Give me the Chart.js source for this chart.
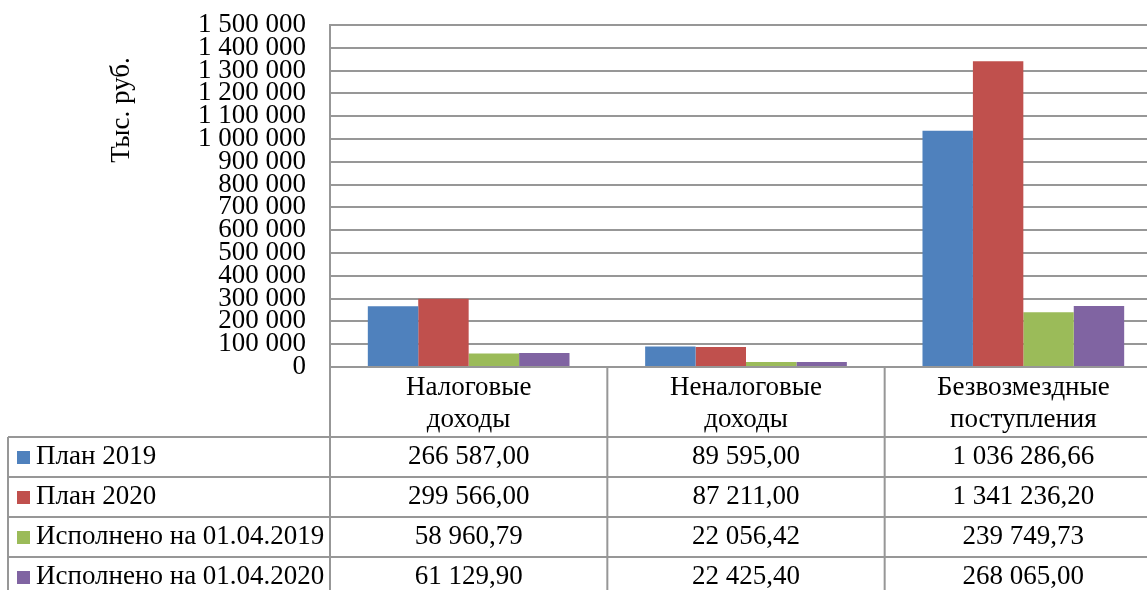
<!DOCTYPE html>
<html>
<head>
<meta charset="utf-8">
<script src="https://cdn.jsdelivr.net/npm/chart.js"></script>
<style>
  html, body { margin: 0; padding: 0; background: #fff; overflow: hidden; }
  canvas { display: block; }
</style>
</head>
<body>
<canvas id="budgetChart" width="1162" height="600"></canvas>
<script>
const FONT = "Liberation Serif, Times New Roman, serif";
const FONT_SIZE = 27;
const LINE_COLOR = "#979797";
const COLORS = ["#4F81BD", "#C0504D", "#9BBB59", "#8064A2"];

const categories = [
  ["Налоговые", "доходы"],
  ["Неналоговые", "доходы"],
  ["Безвозмездные", "поступления"],
];
const seriesNames = [
  "План 2019",
  "План 2020",
  "Исполнено на 01.04.2019",
  "Исполнено на 01.04.2020",
];
const plan2019 = [266587.0, 89595.0, 1036286.66];
const plan2020 = [299566.0, 87211.0, 1341236.2];
const done2019 = [58960.79, 22056.42, 239749.73];
const done2020 = [61129.9, 22425.4, 268065.0];
const yTitle = "Тыс. руб.";

const seriesValues = [plan2019, plan2020, done2019, done2020];

function groupDigits(s) {
  return s.replace(/\B(?=(\d{3})+(?!\d))/g, " ");
}
function formatTick(v) {
  return groupDigits(String(Math.round(v)));
}
function formatCell(v) {
  const parts = v.toFixed(2).split(".");
  return groupDigits(parts[0]) + "," + parts[1];
}

// draws the axis title and the data table under the plot
const tablePlugin = {
  id: "dataTable",
  afterDraw(chart) {
    const ctx = chart.ctx;
    const area = chart.chartArea;
    const x = chart.scales.x;
    const catW = (x.right - x.left) / categories.length;
    const headerH = 70;
    const rowH = 40;
    const tableLeft = 8;
    const top = area.bottom;
    const headerBottom = top + headerH;
    const bottom = headerBottom + rowH * seriesNames.length;

    ctx.save();

    // y axis title
    ctx.save();
    ctx.translate(122, 110);
    ctx.rotate(-Math.PI / 2);
    ctx.font = FONT_SIZE + "px " + FONT;
    ctx.fillStyle = "#000";
    ctx.textAlign = "center";
    ctx.textBaseline = "middle";
    ctx.fillText(yTitle, 0, 0);
    ctx.restore();

    // grid lines of the table
    ctx.strokeStyle = LINE_COLOR;
    ctx.lineWidth = 2;
    ctx.beginPath();
    for (let r = 0; r <= seriesNames.length; r++) {
      const y = headerBottom + r * rowH;
      ctx.moveTo(tableLeft, y);
      ctx.lineTo(x.right, y);
    }
    ctx.moveTo(tableLeft, headerBottom);
    ctx.lineTo(tableLeft, bottom);
    for (let c = 0; c <= categories.length; c++) {
      const cx = x.left + c * catW;
      ctx.moveTo(cx, top);
      ctx.lineTo(cx, bottom);
    }
    ctx.stroke();

    ctx.fillStyle = "#000";
    ctx.font = FONT_SIZE + "px " + FONT;
    ctx.textBaseline = "middle";

    // header: category names
    ctx.textAlign = "center";
    categories.forEach((lines, i) => {
      const cx = x.getPixelForValue(i);
      lines.forEach((line, j) => {
        ctx.fillText(line, cx, top + 21 + j * 32);
      });
    });

    // rows: legend key, series name, values
    seriesNames.forEach((name, r) => {
      const cy = headerBottom + r * rowH + rowH / 2;
      ctx.fillStyle = COLORS[r];
      ctx.fillRect(17, cy - 6, 13, 13);
      ctx.fillStyle = "#000";
      ctx.textAlign = "left";
      ctx.fillText(name, 36, cy);
      ctx.textAlign = "center";
      seriesValues[r].forEach((v, i) => {
        ctx.fillText(formatCell(v), x.getPixelForValue(i), cy);
      });
    });

    ctx.restore();
  },
};

new Chart(document.getElementById("budgetChart"), {
  type: "bar",
  data: {
    labels: categories,
    datasets: seriesNames.map((name, i) => ({
      label: name,
      data: seriesValues[i],
      backgroundColor: COLORS[i],
      borderWidth: 0,
      categoryPercentage: 4 / 5.5,
      barPercentage: 1,
    })),
  },
  options: {
    responsive: false,
    animation: false,
    layout: { padding: { top: 25, right: 0, left: 0, bottom: 0 } },
    plugins: {
      legend: { display: false },
      tooltip: { enabled: false },
    },
    scales: {
      x: {
        ticks: { display: false },
        grid: { display: false, drawTicks: false },
        border: { display: true, color: LINE_COLOR, width: 2 },
        afterFit(scale) {
          scale.height = 233;
          scale.paddingLeft = 0;
          scale.paddingRight = 0;
        },
      },
      y: {
        min: 0,
        max: 1500000,
        ticks: {
          stepSize: 100000,
          autoSkip: false,
          padding: 24,
          color: "#000",
          font: { family: FONT, size: FONT_SIZE },
          callback: (v) => formatTick(v),
        },
        grid: { color: LINE_COLOR, lineWidth: 2, drawTicks: false },
        border: { display: true, color: LINE_COLOR, width: 2 },
        afterFit(scale) {
          scale.width = 330;
          scale.paddingTop = 0;
          scale.paddingBottom = 0;
        },
      },
    },
  },
  plugins: [tablePlugin],
});
</script>
</body>
</html>
